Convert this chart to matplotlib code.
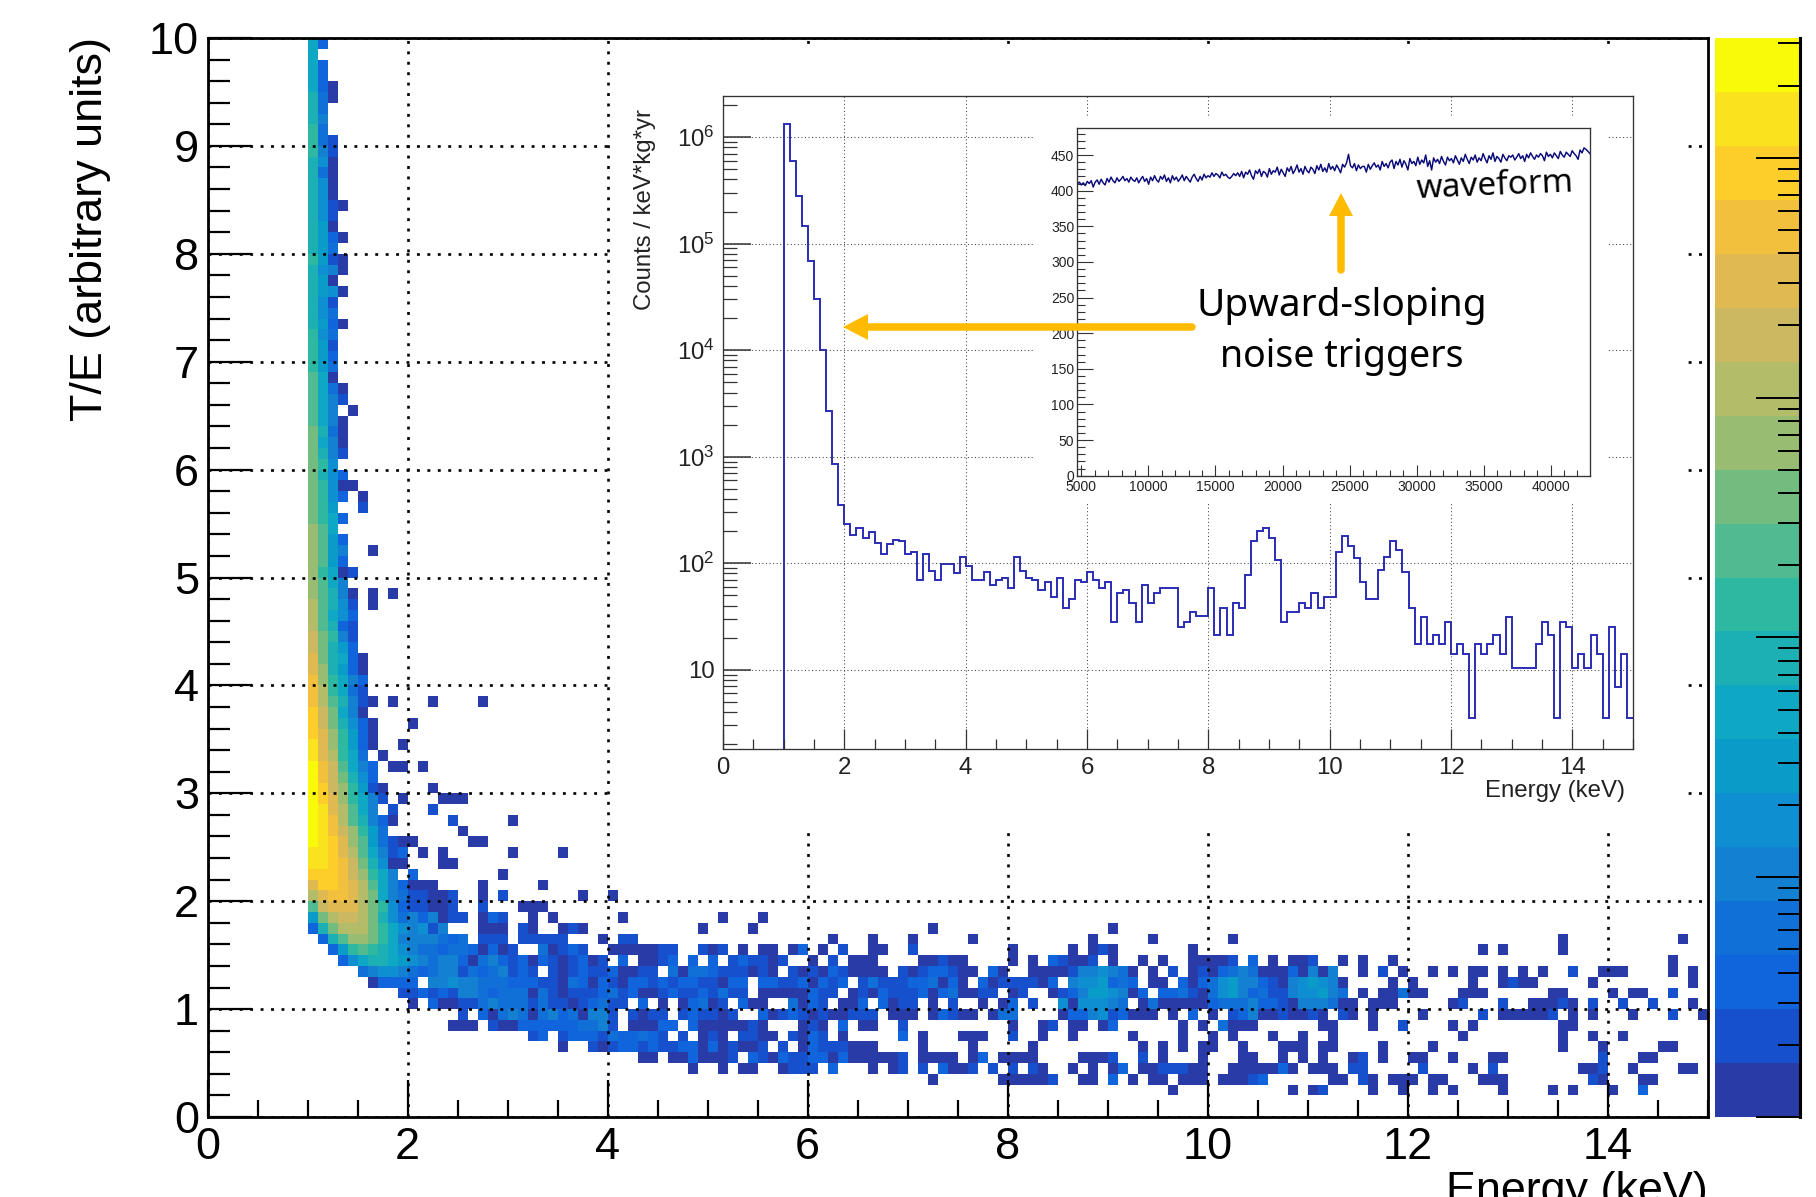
import numpy as np
import matplotlib
matplotlib.use("Agg")
import matplotlib.pyplot as plt
from matplotlib.colors import ListedColormap, LogNorm
from matplotlib.lines import Line2D
from matplotlib.patches import Polygon, Rectangle
from matplotlib.ticker import FixedLocator, LogLocator, NullFormatter

plt.rcParams['font.family'] = ['Liberation Sans', 'DejaVu Sans']

W, H = 1816, 1197

################################################
# Data
################################################
# colour bands of the z scale, bottom to top
band_colors = ["#283ba6", "#1650cc", "#1065dd", "#1170d8", "#1480d2", "#0e8fd2", "#0a9cc9",
               "#0ea8c4", "#1cb0b4", "#2db8a2", "#50bb90", "#72bc7f", "#97bc72", "#b3bc68",
               "#cdb862", "#e0ba50", "#f3c03e", "#fdce2a", "#fbe21f", "#f9fa0a"]
level_chars = "123456789abcdefghijk"

# 2D histogram, one string per T/E bin (0.1 wide): "energy_bin:colour_levels"
cells_te_00_01 = ["", ""]
cells_te_02_09 = [
    "96:1 108:1 110:12 116:1 119:1 122:1 124:1 129:1 134:1 136:1 140:1 143:3",
    "72:1 79:11111 84:2 87:11 90:3 92:1 94:11 97:111 101:111 104:23 112:11 115:21 118:111 122:11 127:111 138:21 143:11",
    "48:1 51:1 53:11 57:1 58:222 62:3 66:1 68:12 71:2 73:3 74:11 76:2 78:2 80:2 82:21 86:1 88:1 90:13 93:11 95:222 98:11 102:11111 107:31 110:111 114:22 121:2 126:1 128:2 137:112 142:1 147:11",
    "43:11 46:11 48:3 49:111 52:2 54:321 57:322 60:331 63:3 64:11111 69:2 71:1111 76:13 79:1111 87:111 90:2 93:2 95:1 99:1 103:11 107:1 109:1 111:1 114:12 117:1 120:11 124:1 128:11 139:2 143:11",
    "35:1 38:21 40:2 41:33 43:2 44:3 45:22 47:33 49:1 50:3 51:1 52:2 53:11 55:2 57:2 59:1 60:3 61:222 64:111 71:1 76:1 82:1 93:1 95:1 97:1 99:11 103:1 107:111 111:11 117:1 122:1 135:1 139:1 145:11",
    "32:23 35:233 38:32 40:4 41:33 43:4 44:3 45:2 47:2 49:1 50:2 51:1 53:22 55:11 58:2 59:1 60:3 61:2 63:1 69:3 71:1 75:111 80:2 83:1 86:1 92:1 97:1 100:1 102:1 106:1 109:1 112:1 125:1 135:1 138:1 141:1",
    "24:111 28:2 29:11 31:333333 37:4 38:45 40:2 42:111 45:33 48:3 49:11111 54:2 55:1 59:1 60:2 61:1 63:3 65:11 69:2 80:1 83:12 86:11 89:13 97:1 99:1 101:4 102:111 111:11 116:1 119:2 124:1 126:1 135:11",
    "25:2 27:31 29:454 32:1 33:4 34:53 36:4 37:1 38:55 40:2 42:2 43:1 44:22 47:2 48:3 49:22 51:1 52:2 55:31 57:2 58:32 60:1 61:21 63:1 64:222 68:111 72:1 73:3 74:21 76:1 78:1 79:44 85:1 86:33 88:56 90:23 92:111 96:1 98:3 100:1 102:23 104:5 105:11 107:2 108:11 110:21 113:21 116:1 121:1 127:2 129:11111 134:2 136:1 138:1 142:1 146:2 149:1",
]
cells_te_10_14 = [
    "20:1 22:3 23:11 25:22 27:4 28:5 29:444 32:2 33:4 34:22 36:1 37:2 38:34 40:22 43:3 45:1 47:1 48:34 50:12 53:311 58:41 60:32 63:11 65:3 67:312 70:2 72:1 74:2 77:1 79:13 82:2 85:6 86:1 87:6665 91:4 93:14 95:111 98:11 100:3 101:444 104:5 105:33 107:2 108:1 109:555 112:4 113:11 116:111 124:1 125:2 129:2 132:111 135:21 138:2 141:2 144:2 148:1",
    "19:22 21:3 22:2 23:3 24:2 25:55 27:4 28:3 29:444 32:1 33:4 34:21 36:222 39:3 40:4 41:2 42:3 43:11 45:2 46:3 47:22 49:3 50:2 51:4 52:22 55:11111 60:3 61:22 64:1 65:2 66:1 67:3 68:222 71:3 72:1 73:3 74:4 75:11 77:22 80:1 81:2 84:1 85:2 86:3 87:5 88:77 90:6 91:5 92:1 93:3 95:33 97:4 98:2 99:1 100:4 101:6 102:7 103:5 104:3 105:4 106:22 108:5 109:66 111:7 112:5 113:4 115:1 117:11 119:4 120:11 125:111 134:11 140:1 142:11 146:2",
    "16:1 17:33 19:3 20:3 22:55 24:6 25:55 27:444 30:333 33:22 35:1 36:4 37:3 38:1 39:3 40:2 41:1 42:33 44:2 45:3 46:2 47:33 49:22 51:1 52:33 55:33 57:22 59:3 60:1 61:3 62:2 63:3 65:2 66:4 67:222 70:33 72:4 73:1 74:3 75:1 77:3 78:1 79:2 80:222 83:1 84:3 86:5 87:66 89:7 90:3 91:4 92:3 94:11 97:3 98:1 99:3 100:4 101:6 102:7 103:55 105:3 106:2 107:1 108:5 109:6 110:7 111:6 112:5 113:1 118:1 120:1 126:1 129:1 130:2 131:11 138:1 148:1",
    "15:4 16:5 17:66 19:5 20:4 21:3 22:4 23:55 25:2 26:4 27:3 28:4 29:5 30:2 31:3 32:2 34:2 35:1 36:2 37:3 38:22 40:3 41:11 43:22 46:4 47:1 48:44 50:3 51:222 54:1 55:2 56:1 58:2 59:1 60:2 61:1 62:3 63:2 64:1111 69:2 70:1 71:2 72:33 74:2 75:11 78:3 79:1 82:1111 86:2 87:55 89:6 90:5 91:4 92:1 94:1 96:2 98:1 99:2 100:1 101:3 102:4 103:5 104:4 105:111 108:3 109:1 110:5 111:1 112:5 115:1 117:2 119:1 122:1 124:1 126:11 129:1 131:1 133:1 136:2 139:111 146:1 148:1",
    "13:3 14:6 15:8 16:9 17:9 18:8 19:7 20:6 21:5 22:4 23:55 25:3 26:1 27:4 28:5 29:3 30:2 31:3 32:1 33:3 34:2 35:1 36:2 37:3 38:1 39:2 41:3 43:11 45:2 46:3 48:3 50:3 52:2 53:3 54:22 56:1 57:2 60:1 62:2 64:111 71:11 73:2 74:11 80:1 82:1 84:3 85:2 86:11 88:2 90:1 93:1 95:1 98:11 100:11 102:2 104:3 106:1 108:11 110:2 113:1 115:1 118:1 146:1",
]
cells_te_15_20 = [
    "12:3 13:7 14:a 15:b 16:a 17:9 18:8 19:6 20:5 21:44 23:3 24:44 26:3 27:1 28:3 29:1 30:2 33:4 34:1 35:2 36:3 37:2 40:11111 45:22 49:2 50:1 51:2 53:1 55:11 58:1 59:3 61:1 63:2 66:11 70:2 80:1 86:1 88:1 89:2 90:1 98:1 127:1 129:1 135:1",
    "11:3 12:9 13:b 14:dd 16:c 17:a 18:8 19:5555 23:4 24:3 25:4 27:222 31:22222 39:1 41:22 62:1 66:1 70:1 76:1 88:1 94:1 102:1 135:1 147:1",
    "10:3 11:9 12:c 13:eee 16:c 17:a 18:8 19:6 20:5 21:6 22:2 23:5 27:111 31:2 32:1 35:1 36:2 37:1 49:1 54:1 72:1 90:1",
    "10:7 11:c 12:e 13:ff 15:e 16:c 17:9 18:6 19:4 20:5 21:3 22:5 23:1 24:22 27:1 28:3 29:2 32:1 34:1 41:1 51:1 55:1",
    "10:b 11:f 12:ggg 15:e 16:c 17:a 18:6 19:3 20:22 22:11 24:2 27:2 31:111",
    "10:e 11:g 12:hh 14:g 15:e 16:c 17:8 18:5 19:4 20:22 22:11 24:2 27:1 29:2 37:1 40:1",
]
cells_te_21_38 = [
    "10:giihgeb853111 27:1 33:1",
    "10:iiihfda85 20:3 29:1",
    "10:jjihfc9611 23:11",
    "10:jjigeb8523 21:1 23:1 30:1 35:1",
    "10:kjigdb74211 26:11",
    "10:kjhfda74 25:1",
    "10:kjheb9531 24:2 30:1",
    "10:kjgeb85 18:2 22:2",
    "10:kigda852 19:1 23:111",
    "10:kifda721 22:1",
    "10:khfc963",
    "10:khfb853 18:11 21:1",
    "10:jgea84 17:1",
    "10:jgda731 19:1",
    "10:igda731",
    "10:ifc9631 20:1",
    "10:ifc851",
    "10:heb9521 18:1 22:1 27:1",
]
cells_te_39_60 = [
    "10:hea842", "10:hda853", "10:gd9731", "10:gc9831", "10:fc973", "10:fca52", "10:eb932", "10:eb863",
    "10:eb962 16:1", "10:db951 16:1 18:1", "10:db85", "10:da812", "10:db73", "10:db75 16:1", "10:db73",
    "10:db8", "10:ca83", "10:ca7 15:2", "10:ca63 15:1", "10:ca611", "10:c963", "10:ca6",
]
cells_te_61_80 = [
    "10:c952", "10:c851", "10:c941", "10:b851", "10:b85 14:1", "10:b852", "10:b841", "10:b81", "10:a74", "10:a73",
    "10:a72", "10:a64", "10:9731", "10:964", "10:962", "10:9761", "10:971", "10:9651", "10:a721", "10:974",
]
cells_te_81_99 = [
    "10:9731", "10:971", "10:962", "10:9621", "10:961", "10:961", "10:941", "10:961", "10:a52", "10:a42",
    "10:a4", "10:95", "10:94", "10:941", "10:831", "10:83", "10:83", "10:8", "10:83",
]

# spectrum inset, counts per 0.1 keV bin from 1.0 to 15.0 keV
spectrum_counts = [1.32e6, 5.9e5, 2.8e5, 1.45e5, 6.9e4, 3e4, 1e4, 2.7e3, 850, 352,
                   232, 184, 213, 174, 195, 154, 122, 151, 164, 160,
                   122, 127, 70, 122, 84, 70, 98, 98, 81, 113,
                   95, 70, 70, 82, 63, 70, 73, 59, 113, 84,
                   73, 70, 56, 66, 48, 73, 38, 46, 70, 66,
                   82, 70, 59, 66, 28, 53, 56, 42, 28, 63,
                   42, 53, 59, 59, 59, 25, 28, 35, 32, 32,
                   59, 21, 38, 21, 42, 38, 77, 160, 201, 213,
                   173, 106, 28, 35, 35, 42, 38, 53, 38, 48,
                   48, 127, 179, 146, 112, 66, 46, 46, 87, 115,
                   160, 134, 82, 38, 17.5, 31, 17.5, 21, 17.5, 28,
                   14, 17.5, 14, 3.55, 17.5, 14, 17.5, 21, 14, 31,
                   10.4, 10.4, 10.4, 10.4, 17.5, 28, 21, 3.55, 28, 25,
                   10.4, 14, 10.4, 21, 14, 3.55, 25, 6.9, 14, 3.55]

# waveform inset, ADC samples
wave_values = [409,412,408,411,407,413,410,414,405,412,415,409,416,411,408,417,412,419,414,411,
               418,413,416,420,414,417,412,419,415,413,418,411,416,420,413,417,409,419,414,421,
               415,412,420,416,422,413,418,411,421,415,419,413,417,422,414,420,416,412,419,423,
               417,413,420,415,423,418,421,419,425,420,424,422,418,426,421,423,419,417,420,424,
               421,425,420,427,418,426,423,429,421,416,428,424,430,420,427,425,419,431,423,428,
               426,433,422,430,425,420,432,427,434,424,429,436,426,431,423,434,428,425,433,430,
               424,435,429,437,427,432,426,438,430,434,428,436,431,425,437,433,439,451,435,432,
               438,428,436,431,434,434,426,437,430,435,439,433,436,429,441,434,438,432,440,443,
               431,441,436,444,433,442,437,429,445,438,441,435,447,437,443,439,450,434,442,429,
               446,440,444,438,448,441,436,447,442,445,439,449,443,437,446,441,451,444,438,447,
               443,450,440,446,442,452,445,439,449,444,453,441,448,445,440,451,446,442,449,447,
               450,443,447,452,445,449,441,451,446,453,448,444,450,447,452,449,442,454,448,451,
               446,453,449,445,455,450,447,454,451,448,456,452,449,444,457,453,460,458,455,452]

main_xticks = [0, 2, 4, 6, 8, 10, 12, 14]
main_yticks = [0, 1, 2, 3, 4, 5, 6, 7, 8, 9, 10]
inset_xticks = [0, 2, 4, 6, 8, 10, 12, 14]
inset_yticks = [10, 100, 1000, 10000, 100000, 1000000]
inset_ylabels = ["10", "$\\mathregular{10^{2}}$", "$\\mathregular{10^{3}}$", "$\\mathregular{10^{4}}$",
                 "$\\mathregular{10^{5}}$", "$\\mathregular{10^{6}}$"]
wave_xticks = [5000, 10000, 15000, 20000, 25000, 30000, 35000, 40000]
wave_yticks = [0, 50, 100, 150, 200, 250, 300, 350, 400, 450]

################################################
# Function Definitions
################################################
def rect(left, top, right, bottom):
    # pixel box of the reference -> figure fraction
    return [left / W, 1 - bottom / H, (right - left) / W, (bottom - top) / H]

def px_transform(x, y):
    return x / W, 1 - y / H

def cells_to_counts(rows):
    counts = np.full((100, 150), np.nan)
    for j, row in enumerate(rows):
        for token in row.split():
            start, levels = token.split(":")
            for k, ch in enumerate(levels):
                level = level_chars.index(ch)
                counts[j, int(start) + k] = 10 ** (4.5 * (level + 0.5) / 20)
    return counts

def white_panel(left, top, right, bottom, zorder):
    x, y = px_transform(left, bottom)
    fig.add_artist(Rectangle((x, y), (right - left) / W, (bottom - top) / H, transform=fig.transFigure,
                             facecolor="white", edgecolor="none", zorder=zorder))

def orange_arrow(tail, shaft_end, tip, half_width):
    color = "#ffbb00"
    fig.add_artist(Line2D(*zip(px_transform(*tail), px_transform(*shaft_end)), transform=fig.transFigure,
                          color=color, lw=5.4, solid_capstyle="round", zorder=8))
    dx, dy = shaft_end[0] - tip[0], shaft_end[1] - tip[1]
    norm = np.hypot(dx, dy)
    nx, ny = -dy / norm * half_width, dx / norm * half_width
    pts = [px_transform(*tip), px_transform(shaft_end[0] + nx, shaft_end[1] + ny),
           px_transform(shaft_end[0] - nx, shaft_end[1] - ny)]
    fig.add_artist(Polygon(pts, closed=True, transform=fig.transFigure, facecolor=color,
                           edgecolor="none", zorder=8))

################################################
# Main 2D histogram
################################################
fig = plt.figure(figsize=(W / 100, H / 100), dpi=100)
ax = fig.add_axes(rect(207.5, 38, 1707.5, 1117), zorder=1)

all_rows = (cells_te_00_01 + cells_te_02_09 + cells_te_10_14 + cells_te_15_20 +
            cells_te_21_38 + cells_te_39_60 + cells_te_61_80 + cells_te_81_99)
counts = cells_to_counts(all_rows)
x_edges = np.arange(151) * 0.1
y_edges = np.arange(101) * 0.1
cmap = ListedColormap(band_colors)
cmap.set_bad("white")
mesh = ax.pcolormesh(x_edges, y_edges, np.ma.masked_invalid(counts), cmap=cmap,
                     norm=LogNorm(1, 10 ** 4.5), shading="flat", antialiased=False,
                     linewidth=0, rasterized=False, zorder=1)
ax.set_xlim(0, 15)
ax.set_ylim(0, 10)
ax.set_xticks(main_xticks)
ax.set_yticks(main_yticks)
ax.xaxis.set_minor_locator(FixedLocator(np.arange(0, 15.01, 0.5)))
ax.yaxis.set_minor_locator(FixedLocator(np.arange(0, 10.01, 0.2)))
ax.tick_params(axis="x", which="major", direction="in", length=27, width=1.6, labelsize=32.5, pad=7)
ax.tick_params(axis="x", which="minor", direction="in", length=12.5, width=1.6)
ax.tick_params(axis="y", which="major", direction="in", length=32, width=1.6, labelsize=32.5, pad=6)
ax.tick_params(axis="y", which="minor", direction="in", length=16, width=1.6)
ax.grid(True, which="major", color="black", lw=1.9, ls=(0, (1.1, 2.85)), zorder=2)
ax.set_axisbelow(False)
for s in ax.spines.values():
    s.set_linewidth(2.0)
    s.set_zorder(5)
fig.text(1707.5 / W, 1 - 1203 / H, "Energy (keV)", ha="right", va="baseline", fontsize=32.3)
fig.text(91 / W, 1 - 37 / H, "T/E (arbitrary units)", rotation=90, ha="center", va="top", fontsize=32.3)

# z scale
cax = fig.add_axes(rect(1715, 38, 1800, 1117), zorder=1)
cb = fig.colorbar(mesh, cax=cax)
cb.outline.set_visible(False)
cax.yaxis.set_major_locator(LogLocator(base=10, numticks=8))
cax.yaxis.set_minor_locator(LogLocator(base=10, subs=np.arange(2, 10), numticks=12))
cax.yaxis.set_major_formatter(NullFormatter())
cax.yaxis.set_minor_formatter(NullFormatter())
cax.tick_params(axis="y", which="major", direction="in", length=32, width=1.4, color="black")
cax.tick_params(axis="y", which="minor", direction="in", length=16, width=1.4, color="black")
cax.spines["right"].set_visible(True)
cax.spines["right"].set_linewidth(2.2)

################################################
# Spectrum inset
################################################
white_panel(615, 47, 1688, 829, 2)
ins = fig.add_axes(rect(723, 96, 1633, 749), zorder=3)
edges = np.concatenate(([0.9], 1.0 + np.arange(len(spectrum_counts) + 1) * 0.1))
ins.stairs(np.concatenate(([0.1], spectrum_counts)), edges, baseline=None, color="#2a2db5", lw=1.4)
ins.set_xlim(0, 15)
ins.set_yscale("log")
ins.set_ylim(1.8, 2.43e6)
ins.set_xticks(inset_xticks)
ins.xaxis.set_minor_locator(FixedLocator(np.arange(0, 15.01, 0.5)))
ins.set_yticks(inset_yticks)
ins.set_yticklabels(inset_ylabels)
ins.yaxis.set_minor_locator(LogLocator(base=10, subs=np.arange(2, 10), numticks=12))
ins.yaxis.set_minor_formatter(NullFormatter())
ins.tick_params(axis="x", which="major", direction="in", length=14.5, width=0.9, color="#333333",
                labelsize=17.3, labelcolor="#222222", pad=6)
ins.tick_params(axis="x", which="minor", direction="in", length=7, width=0.9, color="#333333")
ins.tick_params(axis="y", which="major", direction="in", length=20, width=1.1, color="#333333",
                labelsize=17.3, labelcolor="#222222", pad=6)
ins.tick_params(axis="y", which="minor", direction="in", length=10, width=0.9, color="#333333")
ins.grid(True, which="major", color="#444444", lw=0.75, ls=(0, (1, 2.4)))
for s in ins.spines.values():
    s.set_linewidth(0.95)
    s.set_color("#333333")
fig.text(645 / W, 1 - 109 / H, "Counts / keV*kg*yr", rotation=90, ha="center", va="top",
         fontsize=17.3, color="#222222", zorder=6)
fig.text(1625 / W, 1 - 791 / H, "Energy (keV)", ha="right", va="center", fontsize=17.3,
         color="#222222", zorder=6)

################################################
# Waveform inset
################################################
white_panel(1034, 116, 1608, 503, 4)
wav = fig.add_axes(rect(1077, 128.3, 1590, 475.7), zorder=5)
wave_x = np.linspace(4700, 42930, len(wave_values))
wav.plot(wave_x, wave_values, color="#0a0a78", lw=1.05)
wav.set_xlim(4672, 42933)
wav.set_ylim(0, 487.5)
wav.set_xticks(wave_xticks)
wav.set_yticks(wave_yticks)
wav.xaxis.set_minor_locator(FixedLocator(np.arange(5000, 43000, 1000)))
wav.yaxis.set_minor_locator(FixedLocator(np.arange(0, 481, 10)))
wav.tick_params(axis="x", which="major", direction="in", length=8, width=0.8, color="#333333",
                labelsize=10, labelcolor="#222222", pad=3)
wav.tick_params(axis="x", which="minor", direction="in", length=4, width=0.8, color="#333333")
wav.tick_params(axis="y", which="major", direction="in", length=11.5, width=0.8, color="#333333",
                labelsize=10, labelcolor="#222222", pad=2)
wav.tick_params(axis="y", which="minor", direction="in", length=6, width=0.8, color="#333333")
for s in wav.spines.values():
    s.set_linewidth(0.95)
    s.set_color("#333333")

################################################
# Annotations
################################################
orange_arrow((1192, 327), (868, 327), (843, 327), 13)
orange_arrow((1341, 270), (1341, 216), (1341, 193), 12)
fig.text(1342 / W, 1 - 306 / H, "Upward-sloping", ha="center", va="center", fontsize=28,
         family="Noto Sans", zorder=8)
fig.text(1342 / W, 1 - 357 / H, "noise triggers", ha="center", va="center", fontsize=27,
         family="Noto Sans", zorder=8)
fig.text(1495 / W, 1 - 186 / H, "waveform", ha="center", va="center", fontsize=24, rotation=2.4,
         family="Noto Sans", zorder=8)

fig.savefig("out.png", dpi=100)
